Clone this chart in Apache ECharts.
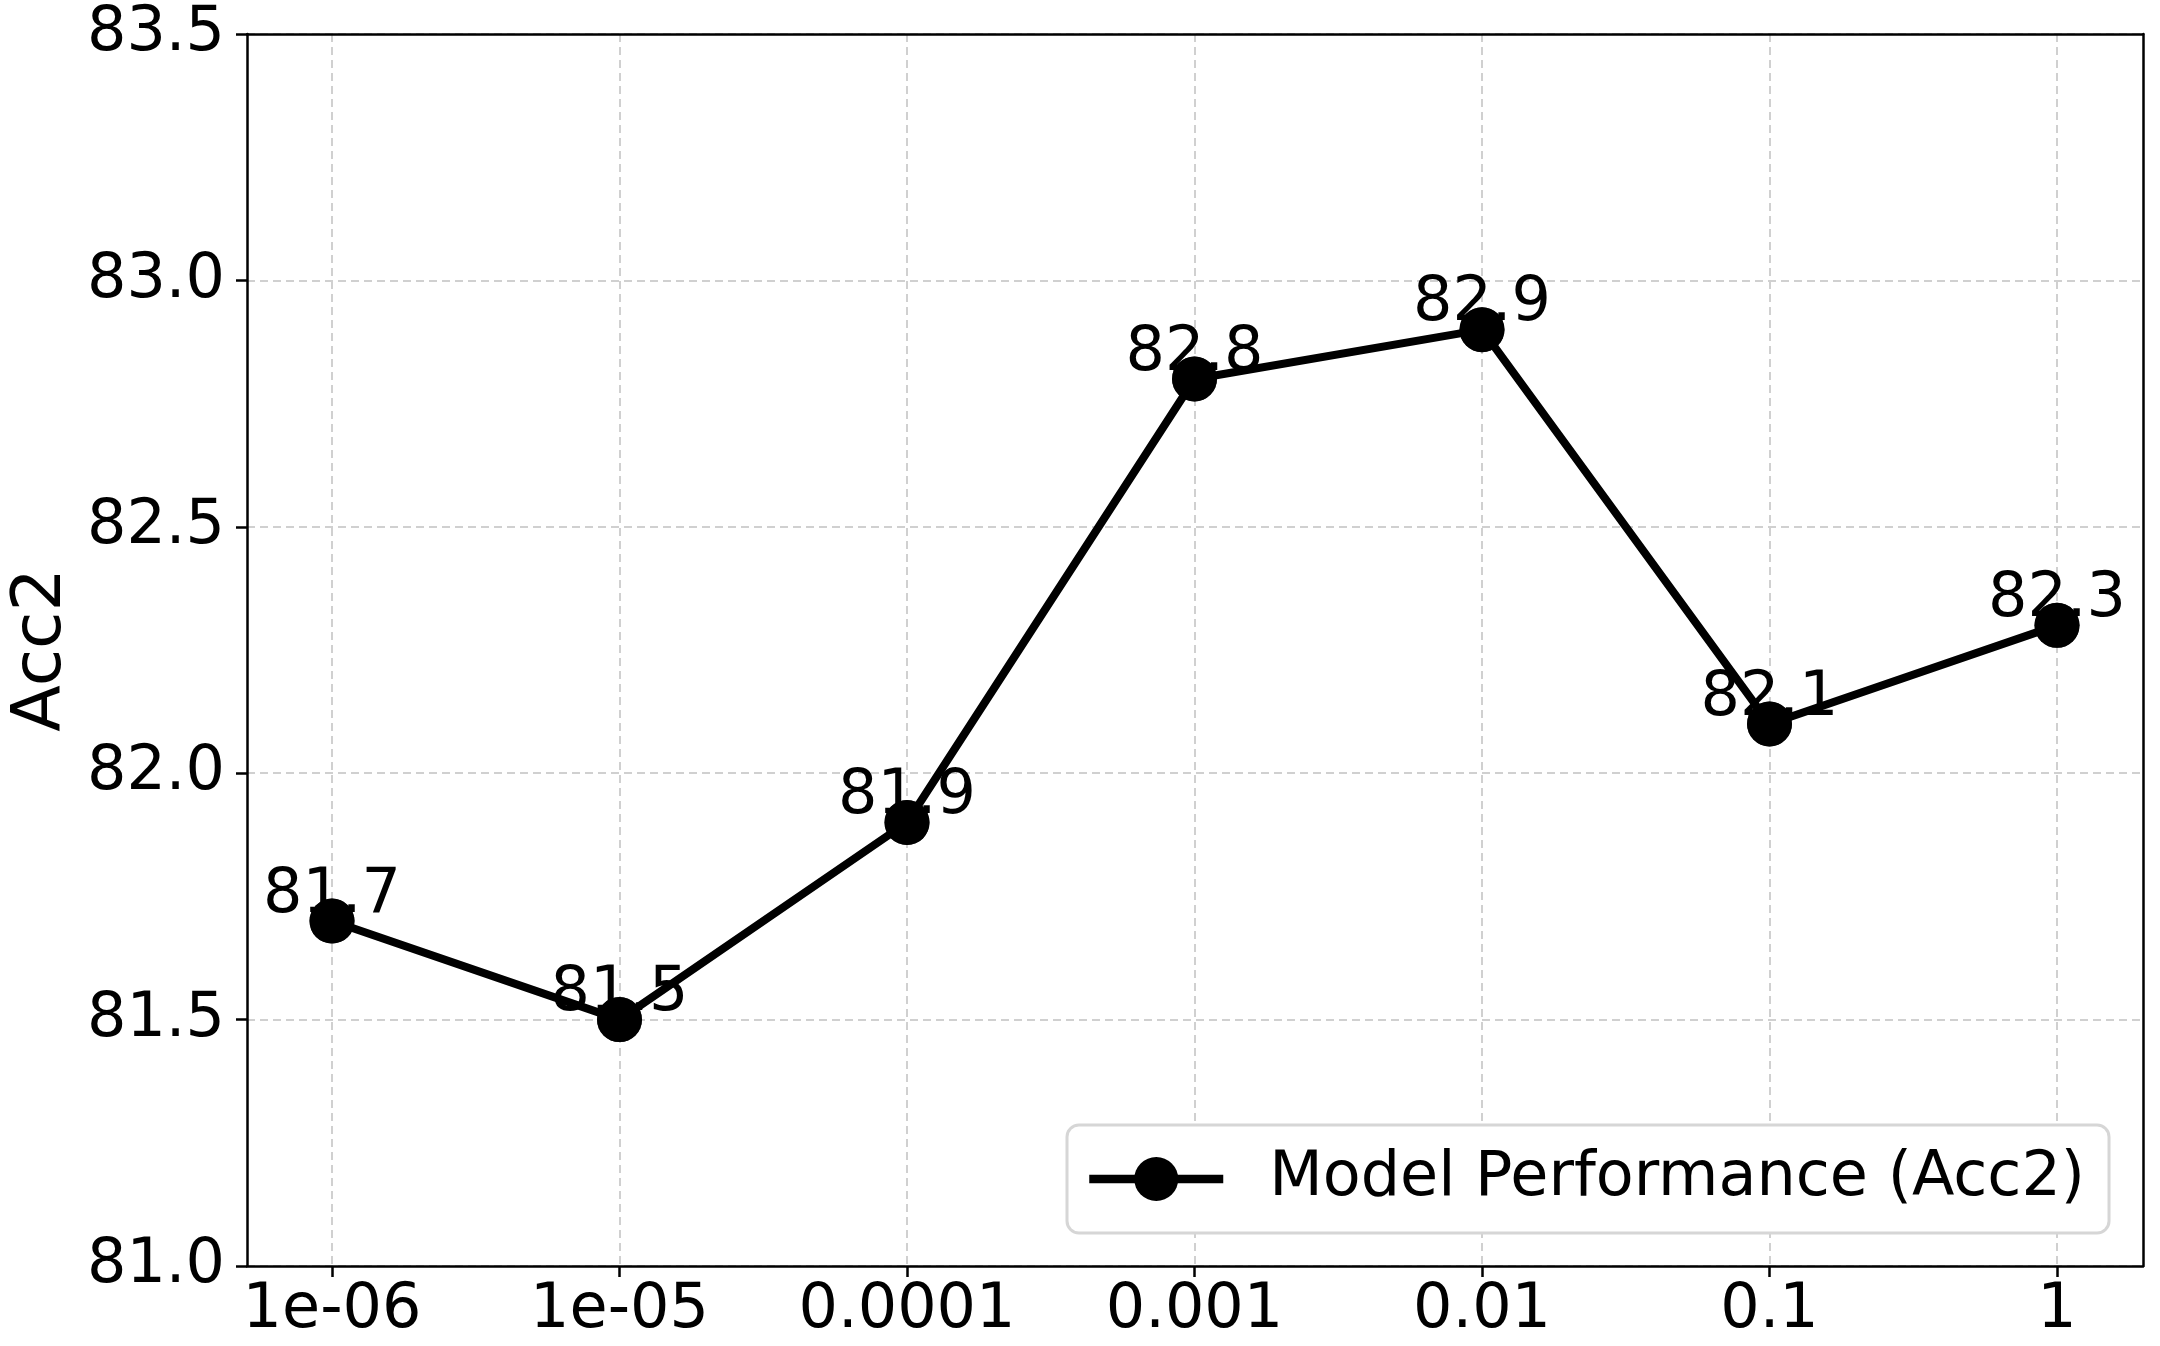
<!DOCTYPE html>
<html>
<head>
<meta charset="utf-8">
<script src="https://cdn.jsdelivr.net/npm/echarts@6/dist/echarts.min.js"></script>
<style>
html,body{margin:0;padding:0;background:#fff;}
#chart{width:2160px;height:1346px;}
</style>
</head>
<body>
<div id="chart"></div>
<script>
const categories = ['1e-06', '1e-05', '0.0001', '0.001', '0.01', '0.1', '1'];
const acc2 = [81.7, 81.5, 81.9, 82.8, 82.9, 82.1, 82.3];
const seriesName = 'Model Performance (Acc2)';
const yTickMin = 81.0, yTickMax = 83.5, yTickStep = 0.5;

const FONT = 'DejaVu Sans';
const points = acc2.map((v, i) => [i, v]);
const frameLine = {show: true, onZero: false, lineStyle: {color: '#000', width: 2.5}};

const chart = echarts.init(document.getElementById('chart'), null, {renderer: 'canvas'});
chart.setOption({
  animation: false,
  backgroundColor: '#fff',
  grid: [
    {left: 247, right: 17, top: 34, bottom: 80},
    {left: 332, right: 103, top: 34, bottom: 80}
  ],
  xAxis: [
    {gridIndex: 0, type: 'value', min: 0, max: 1, position: 'bottom', axisLine: frameLine,
     axisTick: {show: false}, axisLabel: {show: false}, splitLine: {show: false}},
    {gridIndex: 0, type: 'value', min: 0, max: 1, position: 'top', axisLine: frameLine,
     axisTick: {show: false}, axisLabel: {show: false}, splitLine: {show: false}},
    {
      gridIndex: 1, type: 'value', min: 0, max: categories.length - 1, interval: 1,
      axisLine: {show: false},
      axisTick: {show: true, length: 11, lineStyle: {color: '#000', width: 2.5}},
      axisLabel: {
        margin: 14, color: '#000', fontSize: 62, fontFamily: FONT,
        formatter: v => Math.abs(v - Math.round(v)) < 1e-6 && categories[Math.round(v)] !== undefined ? categories[Math.round(v)] : ''
      },
      splitLine: {show: true, lineStyle: {color: '#d0d0d0', width: 2, type: [8, 5]}}
    }
  ],
  yAxis: [
    {
      gridIndex: 0, type: 'value', min: yTickMin, max: yTickMax, interval: yTickStep,
      position: 'left',
      name: 'Acc2', nameLocation: 'middle', nameGap: 170,
      nameTextStyle: {fontSize: 68, fontFamily: FONT, color: '#000'},
      axisLine: frameLine,
      axisTick: {show: true, length: 11, lineStyle: {color: '#000', width: 2.5}},
      axisLabel: {margin: 22, color: '#000', fontSize: 62, fontFamily: FONT, formatter: v => v.toFixed(1)},
      splitLine: {show: true, lineStyle: {color: '#d0d0d0', width: 2, type: [8, 5]}}
    },
    {gridIndex: 0, type: 'value', min: yTickMin, max: yTickMax, position: 'right', axisLine: frameLine,
     axisTick: {show: false}, axisLabel: {show: false}, splitLine: {show: false}},
    {gridIndex: 1, type: 'value', min: yTickMin, max: yTickMax, show: false}
  ],
  legend: {
    left: 1067, top: 1125,
    padding: [23, 24, 23, 18],
    backgroundColor: '#fff',
    borderColor: '#d6d6d6', borderWidth: 3, borderRadius: 12,
    itemWidth: 134, itemHeight: 55,
    lineStyle: {width: 8.5, color: '#000'},
    textStyle: {fontSize: 62, fontFamily: FONT, color: '#000', padding: [0, 0, 0, 41]},
    data: [seriesName]
  },
  series: [
    {
      name: seriesName, type: 'line', xAxisIndex: 2, yAxisIndex: 2,
      data: points, z: 2,
      symbol: 'circle', symbolSize: 45,
      lineStyle: {color: '#000', width: 8},
      itemStyle: {color: '#000'},
      label: {
        show: true, position: 'top', distance: -28,
        fontSize: 62, fontFamily: FONT, color: '#000',
        formatter: p => p.value[1].toFixed(1)
      }
    },
    {
      name: 'markers', type: 'scatter', xAxisIndex: 2, yAxisIndex: 2,
      data: points, z: 5,
      symbol: 'circle', symbolSize: 45,
      itemStyle: {color: '#000'},
      label: {show: false}
    }
  ]
});
</script>
</body>
</html>
